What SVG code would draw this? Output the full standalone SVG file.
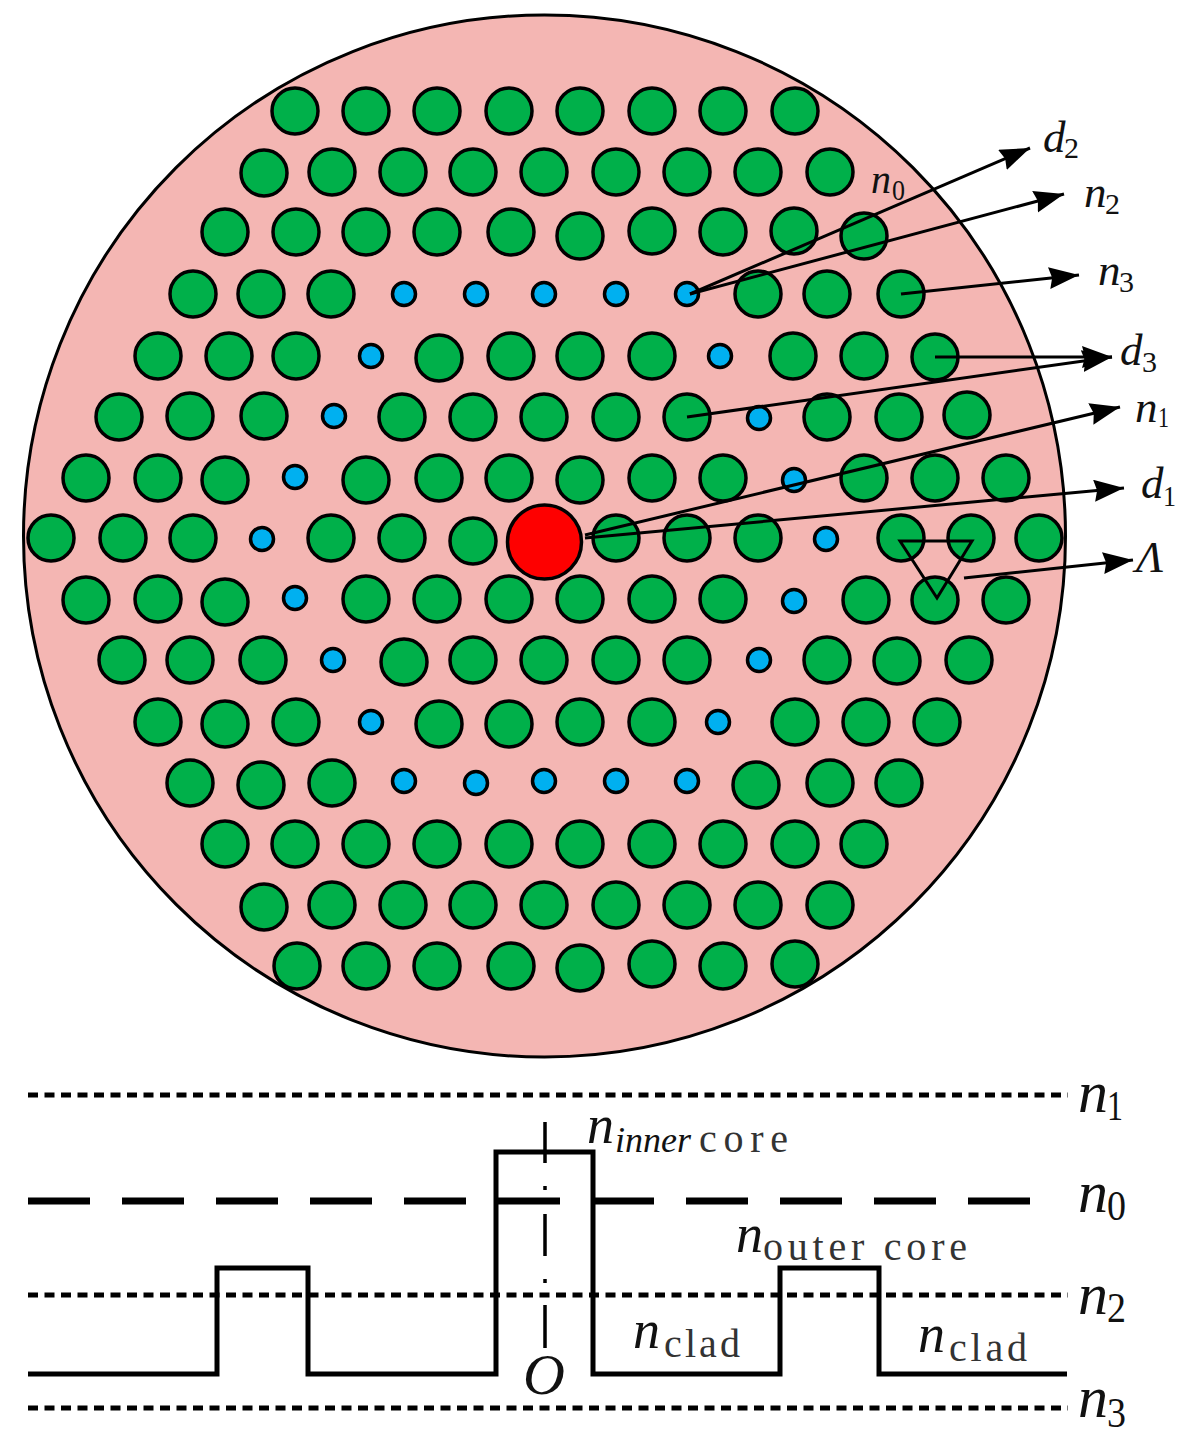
<svg xmlns="http://www.w3.org/2000/svg" width="1200" height="1443" viewBox="0 0 1200 1443">
<style>
text{font-family:"Liberation Serif","Times New Roman",serif;fill:#111}
.i{font-style:italic}
.g{fill:#00b04a;stroke:#000;stroke-width:3.5}
.b{fill:#00b0f0;stroke:#000;stroke-width:3.5}
.a{fill:none;stroke:#000;stroke-width:3;marker-end:url(#ah)}
.dot{fill:none;stroke:#000;stroke-width:5;stroke-dasharray:10 6.5}
.t{font-size:45px}.s{font-size:30px}
.L{font-size:60px}.Ls{font-size:42px}
.m{font-size:54px}.ms{font-size:40px;fill:#333}
</style>
<defs>
<marker id="ah" markerUnits="userSpaceOnUse" markerWidth="32" markerHeight="24" refX="30" refY="11" orient="auto"><path d="M0,0L30,11L0,22L3,11Z" fill="#000"/></marker>
</defs>
<rect width="1200" height="1443" fill="#fff"/>
<circle id="fiber" cx="544.500" cy="536" r="521" fill="#f4b6b3" stroke="#000" stroke-width="3"/>
<g id="air-holes">
<circle class="g" r="23" cx="295" cy="111"/><circle class="g" r="23" cx="366" cy="111"/><circle class="g" r="23" cx="437" cy="111"/><circle class="g" r="23" cx="509" cy="111"/><circle class="g" r="23" cx="580" cy="111"/><circle class="g" r="23" cx="652" cy="111"/><circle class="g" r="23" cx="723" cy="111"/><circle class="g" r="23" cx="795" cy="111"/>
<circle class="g" r="23" cx="264" cy="173"/><circle class="g" r="23" cx="332" cy="172"/><circle class="g" r="23" cx="403" cy="172"/><circle class="g" r="23" cx="473" cy="172"/><circle class="g" r="23" cx="544" cy="172"/><circle class="g" r="23" cx="616" cy="172"/><circle class="g" r="23" cx="687" cy="172"/><circle class="g" r="23" cx="758" cy="172"/><circle class="g" r="23" cx="830" cy="172"/>
<circle class="g" r="23" cx="225" cy="232"/><circle class="g" r="23" cx="296" cy="232"/><circle class="g" r="23" cx="366" cy="232"/><circle class="g" r="23" cx="437" cy="232"/><circle class="g" r="23" cx="511" cy="232"/><circle class="g" r="23" cx="580" cy="236"/><circle class="g" r="23" cx="652" cy="231"/><circle class="g" r="23" cx="723" cy="232"/><circle class="g" r="23" cx="794" cy="231"/><circle class="g" r="23" cx="864" cy="236"/>
<circle class="g" r="23" cx="193" cy="294"/><circle class="g" r="23" cx="261" cy="294"/><circle class="g" r="23" cx="331" cy="294"/><circle class="g" r="23" cx="758" cy="294"/><circle class="g" r="23" cx="827" cy="294"/><circle class="g" r="23" cx="901" cy="294"/>
<circle class="g" r="23" cx="158" cy="356"/><circle class="g" r="23" cx="229" cy="356"/><circle class="g" r="23" cx="296" cy="356"/><circle class="g" r="23" cx="439" cy="358"/><circle class="g" r="23" cx="511" cy="356"/><circle class="g" r="23" cx="580" cy="356"/><circle class="g" r="23" cx="652" cy="356"/><circle class="g" r="23" cx="793" cy="356"/><circle class="g" r="23" cx="864" cy="356"/><circle class="g" r="23" cx="935" cy="357"/>
<circle class="g" r="23" cx="119" cy="417"/><circle class="g" r="23" cx="190" cy="416"/><circle class="g" r="23" cx="264" cy="416"/><circle class="g" r="23" cx="402" cy="417"/><circle class="g" r="23" cx="473" cy="417"/><circle class="g" r="23" cx="544" cy="417"/><circle class="g" r="23" cx="616" cy="417"/><circle class="g" r="23" cx="687" cy="417"/><circle class="g" r="23" cx="827" cy="417"/><circle class="g" r="23" cx="899" cy="417"/><circle class="g" r="23" cx="967" cy="415"/>
<circle class="g" r="23" cx="86" cy="478"/><circle class="g" r="23" cx="158" cy="478"/><circle class="g" r="23" cx="225" cy="480"/><circle class="g" r="23" cx="366" cy="480"/><circle class="g" r="23" cx="439" cy="478"/><circle class="g" r="23" cx="509" cy="478"/><circle class="g" r="23" cx="580" cy="480"/><circle class="g" r="23" cx="652" cy="478"/><circle class="g" r="23" cx="723" cy="478"/><circle class="g" r="23" cx="864" cy="478"/><circle class="g" r="23" cx="935" cy="478"/><circle class="g" r="23" cx="1006" cy="478"/>
<circle class="g" r="23" cx="51" cy="538"/><circle class="g" r="23" cx="123" cy="538"/><circle class="g" r="23" cx="193" cy="538"/><circle class="g" r="23" cx="331" cy="538"/><circle class="g" r="23" cx="402" cy="538"/><circle class="g" r="23" cx="473" cy="541"/><circle class="g" r="23" cx="616" cy="538"/><circle class="g" r="23" cx="687" cy="538"/><circle class="g" r="23" cx="758" cy="538"/><circle class="g" r="23" cx="901" cy="538"/><circle class="g" r="23" cx="971" cy="538"/><circle class="g" r="23" cx="1039" cy="538"/>
<circle class="g" r="23" cx="86" cy="600"/><circle class="g" r="23" cx="158" cy="599"/><circle class="g" r="23" cx="225" cy="602"/><circle class="g" r="23" cx="366" cy="599"/><circle class="g" r="23" cx="437" cy="599"/><circle class="g" r="23" cx="509" cy="599"/><circle class="g" r="23" cx="580" cy="599"/><circle class="g" r="23" cx="652" cy="599"/><circle class="g" r="23" cx="723" cy="599"/><circle class="g" r="23" cx="866" cy="600"/><circle class="g" r="23" cx="935" cy="600"/><circle class="g" r="23" cx="1006" cy="600"/>
<circle class="g" r="23" cx="122" cy="660"/><circle class="g" r="23" cx="190" cy="660"/><circle class="g" r="23" cx="263" cy="660"/><circle class="g" r="23" cx="404" cy="662"/><circle class="g" r="23" cx="473" cy="660"/><circle class="g" r="23" cx="544" cy="660"/><circle class="g" r="23" cx="616" cy="660"/><circle class="g" r="23" cx="687" cy="660"/><circle class="g" r="23" cx="827" cy="660"/><circle class="g" r="23" cx="897" cy="661"/><circle class="g" r="23" cx="969" cy="660"/>
<circle class="g" r="23" cx="158" cy="722"/><circle class="g" r="23" cx="225" cy="724"/><circle class="g" r="23" cx="296" cy="722"/><circle class="g" r="23" cx="439" cy="724"/><circle class="g" r="23" cx="509" cy="724"/><circle class="g" r="23" cx="580" cy="722"/><circle class="g" r="23" cx="652" cy="722"/><circle class="g" r="23" cx="795" cy="722"/><circle class="g" r="23" cx="866" cy="722"/><circle class="g" r="23" cx="937" cy="722"/>
<circle class="g" r="23" cx="190" cy="783"/><circle class="g" r="23" cx="261" cy="785"/><circle class="g" r="23" cx="332" cy="783"/><circle class="g" r="23" cx="756" cy="785"/><circle class="g" r="23" cx="830" cy="783"/><circle class="g" r="23" cx="899" cy="783"/>
<circle class="g" r="23" cx="225" cy="844"/><circle class="g" r="23" cx="295" cy="844"/><circle class="g" r="23" cx="366" cy="844"/><circle class="g" r="23" cx="437" cy="844"/><circle class="g" r="23" cx="509" cy="844"/><circle class="g" r="23" cx="580" cy="844"/><circle class="g" r="23" cx="652" cy="844"/><circle class="g" r="23" cx="723" cy="844"/><circle class="g" r="23" cx="795" cy="844"/><circle class="g" r="23" cx="864" cy="844"/>
<circle class="g" r="23" cx="264" cy="907"/><circle class="g" r="23" cx="332" cy="905"/><circle class="g" r="23" cx="403" cy="905"/><circle class="g" r="23" cx="473" cy="905"/><circle class="g" r="23" cx="544" cy="905"/><circle class="g" r="23" cx="616" cy="905"/><circle class="g" r="23" cx="687" cy="905"/><circle class="g" r="23" cx="758" cy="905"/><circle class="g" r="23" cx="830" cy="905"/>
<circle class="g" r="23" cx="297" cy="966"/><circle class="g" r="23" cx="366" cy="966"/><circle class="g" r="23" cx="437" cy="966"/><circle class="g" r="23" cx="511" cy="966"/><circle class="g" r="23" cx="580" cy="968"/><circle class="g" r="23" cx="652" cy="964"/><circle class="g" r="23" cx="723" cy="966"/><circle class="g" r="23" cx="795" cy="964"/>
</g>
<g id="small-holes">
<circle class="b" r="11.500" cx="404" cy="294"/><circle class="b" r="11.500" cx="476" cy="294"/><circle class="b" r="11.500" cx="544" cy="294"/><circle class="b" r="11.500" cx="616" cy="294"/><circle class="b" r="11.500" cx="687" cy="294"/>
<circle class="b" r="11.500" cx="371" cy="356"/><circle class="b" r="11.500" cx="720" cy="356"/><circle class="b" r="11.500" cx="334" cy="416"/><circle class="b" r="11.500" cx="759" cy="418"/><circle class="b" r="11.500" cx="295" cy="477"/><circle class="b" r="11.500" cx="794" cy="480"/><circle class="b" r="11.500" cx="262" cy="539"/><circle class="b" r="11.500" cx="826" cy="539"/><circle class="b" r="11.500" cx="295" cy="598"/><circle class="b" r="11.500" cx="794" cy="601"/><circle class="b" r="11.500" cx="333" cy="660"/><circle class="b" r="11.500" cx="759" cy="660"/><circle class="b" r="11.500" cx="371" cy="722"/><circle class="b" r="11.500" cx="718" cy="722"/>
<circle class="b" r="11.500" cx="404" cy="781"/><circle class="b" r="11.500" cx="476" cy="783"/><circle class="b" r="11.500" cx="544" cy="781"/><circle class="b" r="11.500" cx="616" cy="781"/><circle class="b" r="11.500" cx="687" cy="781"/>
</g>
<circle id="core" cx="544.500" cy="542" r="37" fill="#fe0000" stroke="#000" stroke-width="3.500"/>
<path id="lattice-triangle" d="M900,541H972L937,598Z" fill="none" stroke="#000" stroke-width="3"/>
<g id="connectors">
<path class="a" d="M690,294L1030,148"/>
<path class="a" d="M690,294L1064,194"/>
<path class="a" d="M901,294L1079,275"/>
<path class="a" d="M935,357H1112"/>
<path class="a" d="M687,417L1112,357"/>
<path class="a" d="M585,535L1120,407"/>
<path class="a" d="M585,538L1124,488"/>
<path class="a" d="M964,578L1133,560"/>
</g>
<g id="fiber-labels">
<text class="i t" x="1043" y="152">d</text><text class="s" x="1064" y="158" textLength="15" lengthAdjust="spacingAndGlyphs">2</text>
<text class="i t" x="1084" y="207">n</text><text class="s" x="1105" y="214" textLength="15" lengthAdjust="spacingAndGlyphs">2</text>
<text class="i t" x="1098" y="285">n</text><text class="s" x="1119" y="292" textLength="15" lengthAdjust="spacingAndGlyphs">3</text>
<text class="i t" x="1120" y="365">d</text><text class="s" x="1142" y="372" textLength="15" lengthAdjust="spacingAndGlyphs">3</text>
<text class="i t" x="1135" y="422">n</text><text class="s" x="1158" y="427" textLength="11" lengthAdjust="spacingAndGlyphs">1</text>
<text class="i t" x="1141" y="498">d</text><text class="s" x="1163" y="506" textLength="13" lengthAdjust="spacingAndGlyphs">1</text>
<text class="i" x="1136" y="572" font-size="45">Λ</text>
<text class="i" x="871" y="193" font-size="40">n</text><text x="892" y="200" font-size="30" textLength="13" lengthAdjust="spacingAndGlyphs">0</text>
</g>
<g id="profile">
<path class="dot" d="M28,1095H1068"/>
<path class="dot" d="M28,1295H1068"/>
<path class="dot" d="M28,1408H1068"/>
<path d="M28,1201H1034" fill="none" stroke="#000" stroke-width="7" stroke-dasharray="62 32"/>
<path d="M28,1374H217V1268H308V1374H496V1152H593V1374H780V1268H879V1374H1067" fill="none" stroke="#000" stroke-width="5"/>
<path id="axis" d="M545,1122V1163M545,1186V1190M545,1214V1256M545,1279V1283M545,1305V1348" fill="none" stroke="#000" stroke-width="3.500"/>
</g>
<g id="profile-labels">
<text class="i L" x="1078" y="1112">n</text><text class="Ls" x="1107" y="1120" textLength="16" lengthAdjust="spacingAndGlyphs">1</text>
<text class="i L" x="1078" y="1212">n</text><text class="Ls" x="1107" y="1220" textLength="19" lengthAdjust="spacingAndGlyphs">0</text>
<text class="i L" x="1078" y="1314">n</text><text class="Ls" x="1107" y="1322" textLength="19" lengthAdjust="spacingAndGlyphs">2</text>
<text class="i L" x="1078" y="1417">n</text><text class="Ls" x="1107" y="1427" textLength="19" lengthAdjust="spacingAndGlyphs">3</text>
<text class="i m" x="587" y="1143">n</text><text x="615" y="1152" font-size="36" fill="#333" class="i" textLength="76" lengthAdjust="spacingAndGlyphs">inner</text><text class="ms" x="699" y="1152" textLength="89">core</text>
<text class="i m" x="736" y="1252">n</text><text class="ms" x="763" y="1260" textLength="204">outer core</text>
<text class="i m" x="633" y="1348">n</text><text class="ms" x="664" y="1357" textLength="76">clad</text>
<text class="i m" x="918" y="1352">n</text><text class="ms" x="949" y="1361" textLength="78">clad</text>
<text class="i" x="523" y="1394" font-size="58">O</text>
</g>
</svg>
